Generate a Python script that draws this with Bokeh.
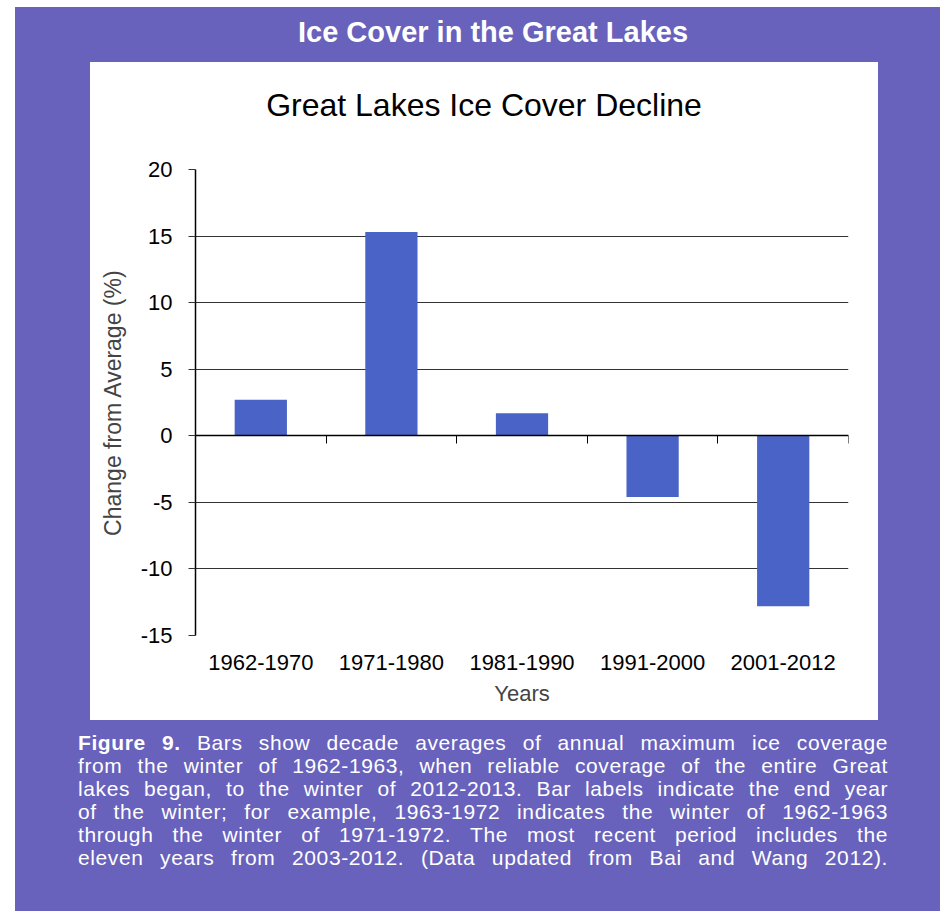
from bokeh.plotting import figure
from bokeh.models import Div, Range1d, LinearAxis, FixedTicker, CustomJSTickFormatter
from bokeh.layouts import column
from bokeh.embed import file_html
from bokeh.resources import INLINE

# Decade averages of annual maximum Great Lakes ice cover, change from average (%)
periods = ["1962-1970", "1971-1980", "1981-1990", "1991-2000", "2001-2012"]
change_pct = [2.7, 15.3, 1.7, -4.6, -12.8]
y_ticks = [-15, -10, -5, 0, 5, 10, 15, 20]

header = "Ice Cover in the Great Lakes"
chart_title = "Great Lakes Ice Cover Decline"
caption_lines = [
    "<b>Figure 9.</b> Bars show decade averages of annual maximum ice coverage",
    "from the winter of 1962-1963, when reliable coverage of the entire Great",
    "lakes began, to the winter of 2012-2013. Bar labels indicate the end year",
    "of the winter; for example, 1963-1972 indicates the winter of 1962-1963",
    "through the winter of 1971-1972. The most recent period includes the",
    "eleven years from 2003-2012. (Data updated from Bai and Wang 2012).",
]

PURPLE = "#6862BC"
BAR = "#4A63C6"
GRID = "#333333"
FONT = "Liberation Sans"

# each decade occupies one unit slot; bars sit in the middle of their slot
n = len(periods)
centers = [i + 0.5 for i in range(n)]
edges = [i + 1 for i in range(n)]

PANEL_W, PANEL_H = 788, 658
TITLE_H = 86

p = figure(
    x_range=Range1d(0, n),
    y_range=Range1d(y_ticks[0], y_ticks[-1]),
    width=PANEL_W, height=PANEL_H - TITLE_H,
    output_backend="svg", toolbar_location=None,
    min_border_left=105, min_border_right=30,
    min_border_top=21, min_border_bottom=85,
    border_fill_color=None, background_fill_color=None,
    outline_line_color=None,
    title=None,
    margin=0,
)

p.vbar(x=centers, top=change_pct, bottom=0, width=0.4, fill_color=BAR, line_color=None)

# y axis with outward ticks
yax = p.yaxis[0]
yax.ticker = FixedTicker(ticks=y_ticks)
yax.major_label_overrides = {t: str(t) for t in y_ticks}
yax.axis_label = "Change from Average (%)"
yax.axis_label_text_font = FONT
yax.axis_label_text_font_size = "23px"
yax.axis_label_text_font_style = "normal"
yax.axis_label_standoff = 12
yax.major_label_text_font = FONT
yax.major_label_text_font_size = "22px"
yax.major_label_text_color = "black"
yax.major_label_standoff = 16
yax.major_tick_out = 7
yax.major_tick_in = 0
yax.minor_tick_line_color = None
yax.axis_line_color = "black"
yax.axis_line_width = 1.5
yax.major_tick_line_color = GRID

p.ygrid.grid_line_color = GRID
p.ygrid.grid_line_width = 1.2
p.xgrid.visible = False

# decade labels along the bottom
xax = p.xaxis[0]
xax.ticker = FixedTicker(ticks=centers)
xax.major_label_overrides = {c: lab for c, lab in zip(centers, periods)}
xax.axis_line_color = None
xax.major_tick_line_color = None
xax.minor_tick_line_color = None
xax.major_label_standoff = 13
xax.major_label_text_font = FONT
xax.major_label_text_font_size = "22px"
xax.major_label_text_color = "black"
xax.axis_label = "Years"
xax.axis_label_text_font = FONT
xax.axis_label_text_font_size = "22px"
xax.axis_label_text_font_style = "normal"
xax.axis_label_standoff = 8

# zero line with ticks between the decade groups
zero_axis = LinearAxis(
    fixed_location=0,
    ticker=FixedTicker(ticks=edges),
    formatter=CustomJSTickFormatter(code="return ''"),
    major_tick_out=8, major_tick_in=0,
    minor_tick_line_color=None,
    axis_line_color="black", axis_line_width=1.5,
    major_tick_line_color="black",
    major_label_text_font_size="0px",
)
p.add_layout(zero_axis, "below")

chart_title_div = Div(
    text=(f'<div style="font-family:\'{FONT}\',Arial,sans-serif;font-size:32px;'
          f'color:black;text-align:center;line-height:{TITLE_H}px;width:{PANEL_W}px;">'
          f'{chart_title}</div>'),
    width=PANEL_W, height=TITLE_H,
    margin=0,
)

# white panel holding the chart
panel = column(
    chart_title_div, p,
    width=PANEL_W, height=PANEL_H,
    margin=(0, 0, 0, 75),
    styles={"background-color": "white"},
)

title_div = Div(
    text=(f'<div style="font-family:\'{FONT}\',Arial,sans-serif;font-weight:bold;'
          f'font-size:29px;color:white;text-align:center;line-height:50px;width:788px;">'
          f'{header}</div>'),
    width=788, height=55, margin=(0, 0, 0, 84),
)

line_style = ("text-align:justify;text-align-last:justify;white-space:nowrap;"
              "height:23px;line-height:23px;letter-spacing:0.6px;")
caption_html = "".join(f'<div style="{line_style}">{ln}</div>' for ln in caption_lines)
caption_div = Div(
    text=(f'<div style="font-family:\'{FONT}\',Arial,sans-serif;font-size:21px;'
          f'color:white;width:810px;">{caption_html}</div>'),
    width=810, height=160, margin=(11, 0, 0, 63),
)

page = column(
    title_div, panel, caption_div,
    width=925, height=904,
    margin=(7, 0, 0, 15),
    styles={"background-color": PURPLE},
)

open("out.html", "w").write(file_html(page, INLINE))
